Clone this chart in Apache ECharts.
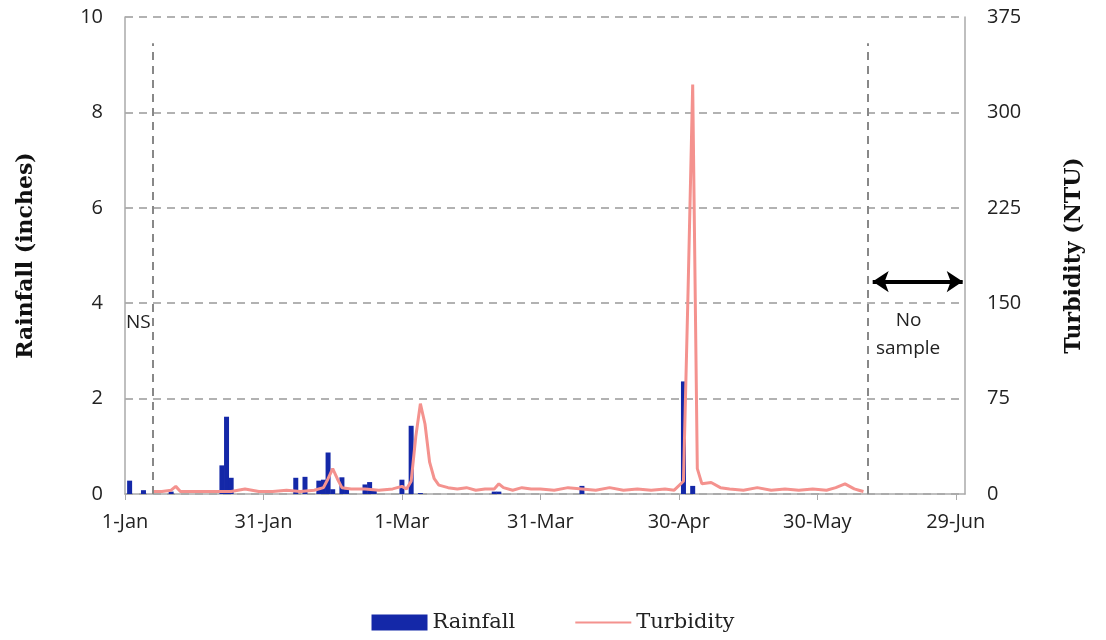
<!DOCTYPE html>
<html>
<head>
<meta charset="utf-8">
<script src="https://cdn.jsdelivr.net/npm/echarts@6/dist/echarts.min.js"></script>
<style>html,body{margin:0;padding:0;background:#fff}#chart{width:1106px;height:640px}</style>
</head>
<body>
<div id="chart"></div>
<script>
// day-of-year (2012, day 0 = 1-Jan)
const tickLabels = {0: '1-Jan', 30: '31-Jan', 60: '1-Mar', 90: '31-Mar', 120: '30-Apr', 150: '30-May', 180: '29-Jun'}

const rainDays = [1, 4, 10, 21, 22, 23, 37, 39, 42, 43, 44, 45, 47, 48, 52, 53, 54, 60, 62, 64, 80, 81, 99, 121, 123]
const rainValues = [0.28, 0.08, 0.05, 0.6, 1.62, 0.34, 0.34, 0.36, 0.28, 0.3, 0.87, 0.1, 0.35, 0.1, 0.2, 0.25, 0.08, 0.3, 1.43, 0.02, 0.05, 0.05, 0.17, 2.36, 0.17]

const turbDays = [6, 8, 10, 11, 12, 14, 17, 20, 23, 26, 29, 32, 35, 38, 41, 43, 44, 45, 46, 47, 49, 52, 55, 58, 60, 61, 62, 63, 64, 65, 66, 67, 68, 70, 72, 74, 76, 78, 80, 81, 82, 84, 86, 88, 90, 93, 96, 99, 102, 105, 108, 111, 114, 117, 119, 121, 122, 123, 124, 125, 127, 129, 131, 134, 137, 140, 143, 146, 149, 152, 154, 156, 157, 158, 159, 160]
const turbValues = [2, 2, 3, 6, 2, 2, 2, 2, 2, 4, 2, 2, 3, 2, 3, 5, 12, 20, 12, 5, 4, 4, 3, 4, 6, 4, 10, 45, 71, 55, 25, 12, 7, 5, 4, 5, 3, 4, 4, 8, 5, 3, 5, 4, 4, 3, 5, 4, 3, 5, 3, 4, 3, 4, 3, 10, 160, 322, 20, 8, 9, 5, 4, 3, 5, 3, 4, 3, 4, 3, 5, 8, 6, 4, 3, 2]

const chart = echarts.init(document.getElementById('chart'))
const txt = '#222'
chart.setOption({
  animation: false,
  grid: {left: 125, right: 141, top: 17, bottom: 146},
  legend: {
    bottom: 2, left: 'center', itemGap: 60, itemWidth: 56, itemHeight: 16,
    textStyle: {fontSize: 21, color: txt, fontFamily: 'DejaVu Serif'},
    data: [{name: 'Rainfall', icon: 'rect'}, {name: 'Turbidity', icon: 'path://M0,7h56v2h-56z'}]
  },
  xAxis: {
    type: 'value', min: 0, max: 182, interval: 30,
    axisLine: {show: true, lineStyle: {color: '#aaa', width: 1.5}},
    axisTick: {show: true, length: 6, lineStyle: {color: '#aaa'}},
    splitLine: {show: false},
    axisLabel: {fontSize: 20, color: txt, margin: 18, showMaxLabel: false, fontFamily: 'Open Sans',
      formatter: v => tickLabels[v] || ''}
  },
  yAxis: [{
    type: 'value', min: 0, max: 10, interval: 2,
    name: 'Rainfall (inches)', nameLocation: 'middle', nameGap: 88,
    nameTextStyle: {fontSize: 22, fontWeight: 'bold', color: '#111', fontFamily: 'DejaVu Serif'},
    axisLine: {show: true, lineStyle: {color: '#aaa', width: 1.5}},
    axisTick: {show: false},
    axisLabel: {fontSize: 20, color: txt, margin: 22, fontFamily: 'Open Sans'},
    splitLine: {lineStyle: {type: [8, 6], color: '#999', width: 1.5}}
  }, {
    type: 'value', min: 0, max: 375, interval: 75,
    name: 'Turbidity (NTU)', nameLocation: 'middle', nameGap: 98, nameRotate: 90,
    nameTextStyle: {fontSize: 22, fontWeight: 'bold', color: '#111', fontFamily: 'DejaVu Serif'},
    axisLine: {show: true, lineStyle: {color: '#aaa', width: 1.5}},
    axisTick: {show: false},
    axisLabel: {fontSize: 20, color: txt, margin: 22, fontFamily: 'Open Sans'},
    splitLine: {show: false}
  }],
  series: [{
    name: 'Rainfall', type: 'bar', barWidth: 5,
    itemStyle: {color: '#1428a8'},
    data: rainDays.map((d, i) => [d, rainValues[i]]),
    markLine: {
      silent: true, symbol: 'none', label: {show: false},
      lineStyle: {type: [8, 6], color: '#888', width: 2},
      data: [
        [{coord: [6, 0]}, {coord: [6, 9.45]}],
        [{coord: [161, 0]}, {coord: [161, 9.45]}]
      ]
    }
  }, {
    name: 'Turbidity', type: 'line', yAxisIndex: 1, symbol: 'none',
    lineStyle: {color: '#f4928e', width: 3}, itemStyle: {color: '#f4928e'},
    data: turbDays.map((d, i) => [d, turbValues[i]]),
    markLine: {
      silent: true, symbol: ['arrow', 'arrow'], symbolSize: [16, 16], label: {show: false},
      lineStyle: {type: 'solid', color: '#000', width: 4},
      data: [[{coord: [162, 167]}, {coord: [181.5, 167]}]]
    }
  }],
  graphic: [
    {type: 'text', left: 126, top: 313, style: {text: 'NS', fontSize: 19, fill: txt, fontFamily: 'Open Sans'}},
    {type: 'text', left: 876, top: 307, style: {text: '    No\nsample', fontSize: 19, lineHeight: 28, fill: txt, fontFamily: 'Open Sans'}}
  ]
})
</script>
</body>
</html>
